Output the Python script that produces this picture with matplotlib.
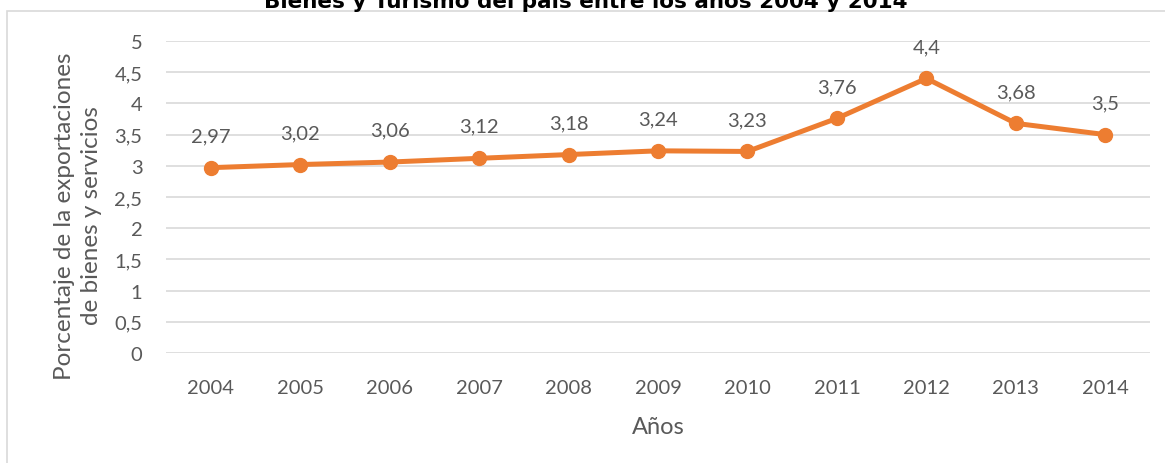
import matplotlib.pyplot as plt
from matplotlib.patches import Rectangle

years = ['2004', '2005', '2006', '2007', '2008', '2009',
         '2010', '2011', '2012', '2013', '2014']
values = [2.97, 3.02, 3.06, 3.12, 3.18, 3.24, 3.23, 3.76, 4.4, 3.68, 3.5]
yticks = [0, 0.5, 1, 1.5, 2, 2.5, 3, 3.5, 4, 4.5, 5]

text_c = '#595959'
grid_c = '#D9D9D9'
orange = '#ED7D31'
font = ['Lato', 'DejaVu Sans']

W, H = 1165, 464
fig = plt.figure(figsize=(W / 100, H / 100), dpi=100)
ax = fig.add_axes([166 / W, 1 - 354 / H, (1150 - 166) / W, (354 - 42) / H])

# chart frame (cut off on right and bottom)
fig.patches.append(Rectangle((7 / W, -0.1), 1.2, 1.1 - 12 / H,
                             transform=fig.transFigure, fill=False,
                             ec=grid_c, lw=1.2))

x = list(range(len(years)))
ax.plot(x, values, color=orange, lw=3.6, marker='o', ms=10,
        solid_capstyle='round', zorder=3)
for xi, v in zip(x, values):
    ax.annotate(f'{v:g}'.replace('.', ','), (xi, v), xytext=(0, 23),
                textcoords='offset points', ha='center', va='center',
                fontsize=14.5, color=text_c, family=font)

ax.set_xlim(-0.5, len(years) - 0.5)
ax.set_ylim(0, 5)
ax.set_xticks(x)
ax.set_xticklabels(years)
ax.set_yticks(yticks)
ax.set_yticklabels([f'{t:g}'.replace('.', ',') for t in yticks])
ax.grid(axis='y', color=grid_c, lw=1.2)
ax.set_axisbelow(True)
for s in ax.spines.values():
    s.set_visible(False)
ax.tick_params(length=0, colors=text_c, labelsize=14.5)
ax.tick_params(axis='y', pad=17)
ax.tick_params(axis='x', pad=19)
for lab in ax.get_xticklabels() + ax.get_yticklabels():
    lab.set_family(font)

ax.set_xlabel('Años', fontsize=17, color=text_c, family=font, labelpad=14)
fig.text(78 / W, 1 - 216 / H,
         'Porcentaje de la exportaciones\nde bienes y servicios',
         rotation=90, ha='center', va='center', fontsize=17.5,
         color=text_c, family=font, linespacing=1.35)

fig.text(586 / W, 1 - 1 / H,
         'Bienes y Turismo del país entre los años 2004 y 2014',
         ha='center', va='center', fontsize=15.5, fontweight='bold',
         color='black', family=['Liberation Sans Narrow', 'DejaVu Sans'])

fig.savefig('out.png', dpi=100)
